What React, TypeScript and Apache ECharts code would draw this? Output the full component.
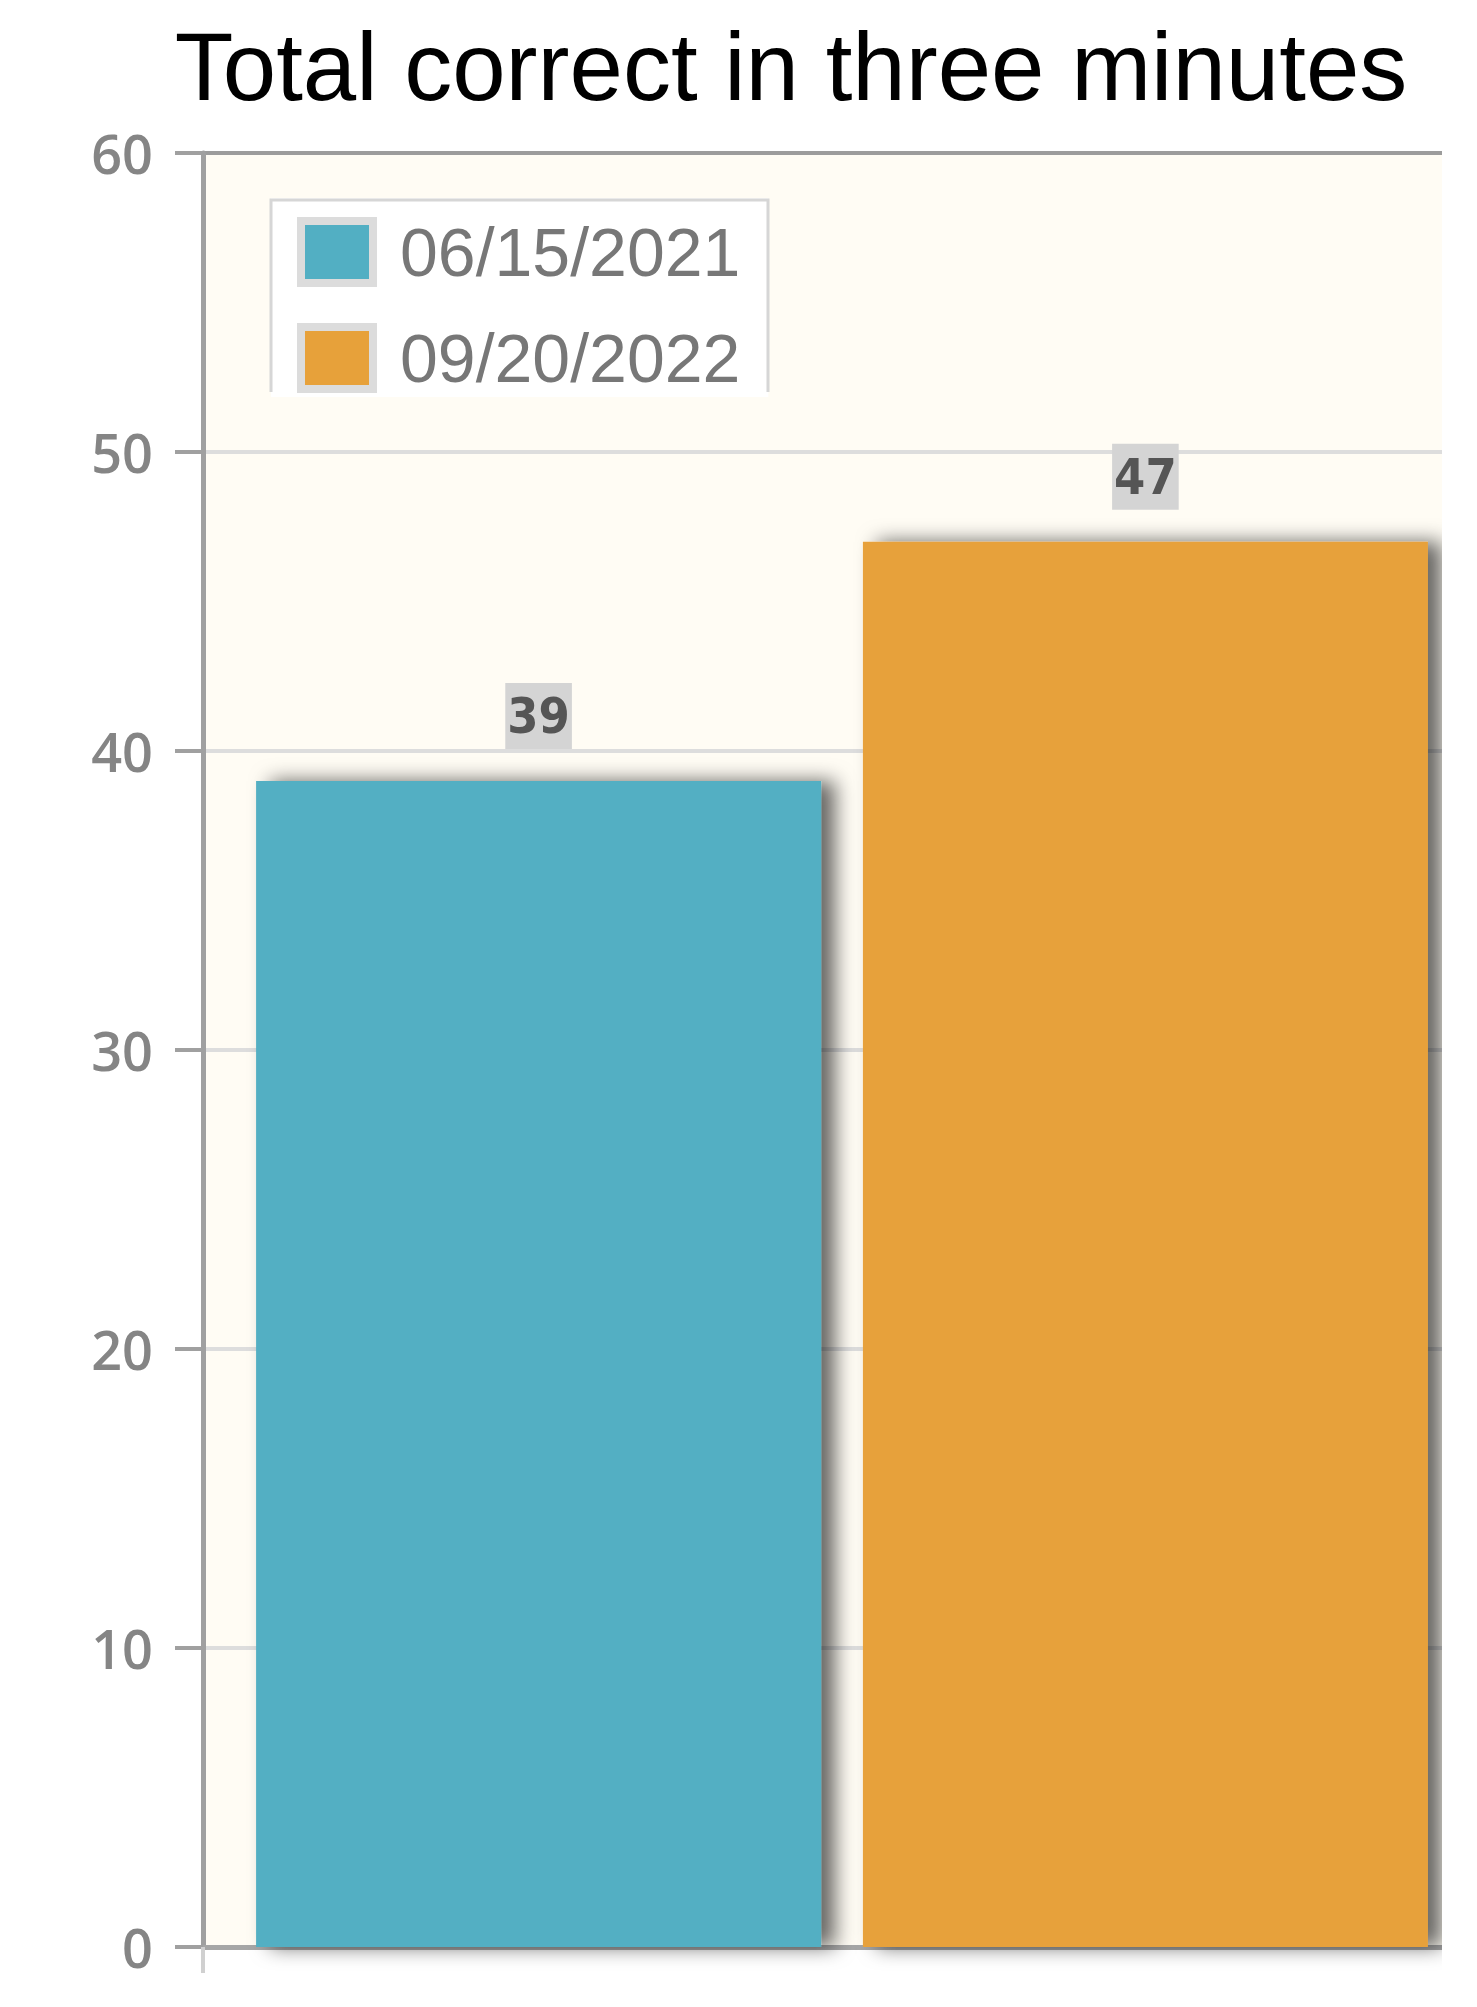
import React, { useEffect, useRef } from "react";
import * as echarts from "echarts";

const titleText = "Total correct in three minutes";
const categories = [""];
const seriesNames = ["06/15/2021", "09/20/2022"];
const seriesValues = [[39], [47]];
const seriesColors = ["#52AFC3", "#E7A13A"];
const yTicks = [0, 10, 20, 30, 40, 50, 60];

export default function App() {
  const ref = useRef<HTMLDivElement>(null);
  useEffect(() => {
    if (!ref.current) return;
    const chart = echarts.init(ref.current, undefined, { renderer: "svg" });
    const splitColors = yTicks.map((t, i) => (i === yTicks.length - 1 ? "#9c9c9c" : "#dddddd"));
    chart.setOption({
      animation: false,
      backgroundColor: "#ffffff",
      graphic: [
        {
          type: "text",
          x: 783,
          y: 58,
          style: {
            text: titleText,
            font: "96px 'Liberation Sans', Arial, sans-serif",
            fill: "#000000",
            textAlign: "center",
            textVerticalAlign: "middle",
          },
        },
        {
          type: "polyline",
          z: 100,
          shape: { points: [[263, 384], [263, 192], [760, 192], [760, 384]] },
          style: { stroke: "#d6d6d6", lineWidth: 3, fill: null },
        },
      ],
      legend: {
        show: true,
        orient: "vertical",
        left: 263,
        top: 190,
        padding: [19, 28, 4, 26],
        backgroundColor: "#ffffff",
        borderWidth: 0,
        itemWidth: 72,
        itemHeight: 62,
        itemGap: 36,
        icon: "rect",
        itemStyle: { borderColor: "#dcdcdc", borderWidth: 8 },
        textStyle: {
          fontFamily: "'Liberation Sans', Arial, sans-serif",
          fontSize: 68,
          color: "#777777",
          padding: [0, 0, 0, 22],
        },
        data: seriesNames,
      },
      grid: {
        left: 195,
        top: 145,
        right: 27,
        bottom: 51,
        show: true,
        backgroundColor: "#FFFCF4",
        borderWidth: 0,
      },
      xAxis: {
        type: "category",
        data: categories,
        axisLine: { show: true, lineStyle: { color: "#a6a6a6", width: 5 } },
        axisTick: { show: true, length: 26, lineStyle: { color: "#d0d0d0", width: 4 } },
        axisLabel: { show: false },
      },
      yAxis: {
        type: "value",
        min: 0,
        max: 60,
        interval: 10,
        axisLine: { show: true, lineStyle: { color: "#a0a0a0", width: 5 } },
        axisTick: { show: true, length: 28, lineStyle: { color: "#a0a0a0", width: 4 } },
        axisLabel: {
          margin: 50,
          fontFamily: "'Open Sans', sans-serif",
          fontSize: 54,
          fontWeight: 600,
          color: "#858585",
        },
        splitLine: { show: true, lineStyle: { color: splitColors, width: 4 } },
      },
      series: seriesNames.map((name, i) => ({
        type: "bar",
        name,
        data: seriesValues[i],
        barWidth: 565,
        barGap: "7.4%",
        itemStyle: {
          color: seriesColors[i],
          shadowColor: "rgba(0,0,0,0.6)",
          shadowBlur: 20,
          shadowOffsetX: 14,
          shadowOffsetY: 0,
        },
        label: {
          show: true,
          position: "top",
          distance: 32,
          fontFamily: "'DejaVu Sans Condensed', 'DejaVu Sans', sans-serif",
          fontWeight: "bold",
          fontSize: 50,
          color: "#555555",
          backgroundColor: "#d4d4d4",
          padding: [8, 2, 8, 2],
        },
      })),
    });
    return () => chart.dispose();
  }, []);
  return (
    <div style={{ width: 1434, height: 1990, overflow: "hidden", position: "relative" }}>
      <div ref={ref} style={{ width: 1500, height: 1990 }} />
    </div>
  );
}
